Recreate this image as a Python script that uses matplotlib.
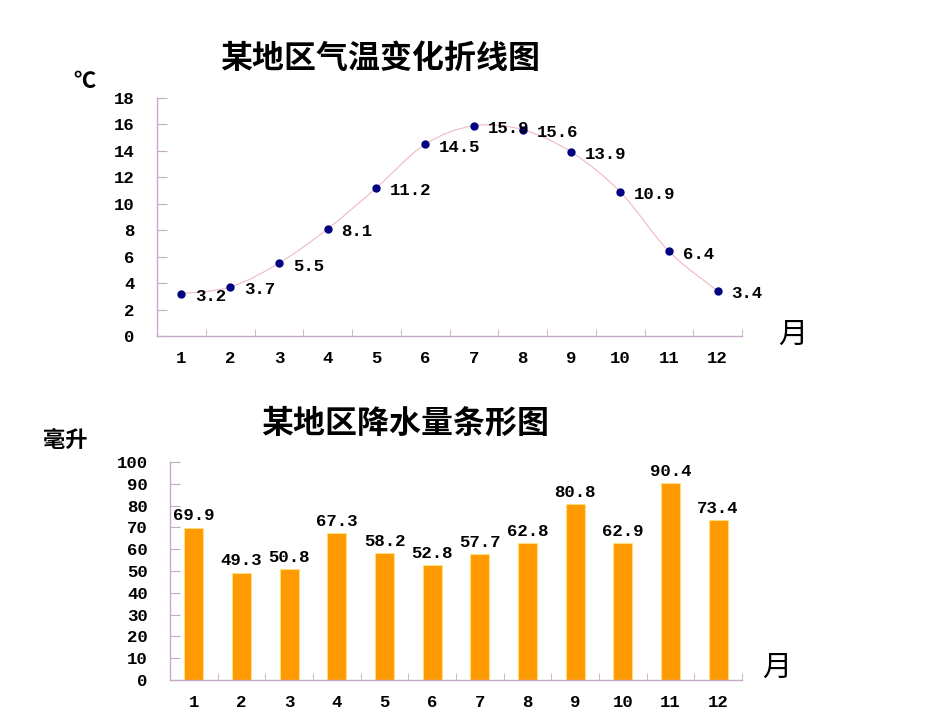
import numpy as np
import matplotlib.pyplot as plt
from matplotlib.path import Path
from matplotlib.patches import PathPatch

plt.rcParams['font.family'] = ['Noto Sans CJK SC', 'DejaVu Sans']

# 数据
months = list(range(1, 13))
temps = [3.2, 3.7, 5.5, 8.1, 11.2, 14.5, 15.9, 15.6, 13.9, 10.9, 6.4, 3.4]
rain = [69.9, 49.3, 50.8, 67.3, 58.2, 52.8, 57.7, 62.8, 80.8, 62.9, 90.4, 73.4]

spine_c = '#c8a8c8'
num_font = ['Liberation Mono', 'DejaVu Sans Mono']
num_size = 12.5

fig = plt.figure(figsize=(9.5, 7.13), dpi=100)
ax1 = fig.add_axes([0.1653, 0.5288, 0.6158, 0.3338])
ax2 = fig.add_axes([0.1789, 0.0463, 0.6021, 0.3057])


def style_axis(ax, ymax, ystep):
    ax.set_xlim(0.5, 12.5)
    ax.set_ylim(0, ymax)
    for s in ['top', 'right']:
        ax.spines[s].set_visible(False)
    for s in ['left', 'bottom']:
        ax.spines[s].set_color(spine_c)
        ax.spines[s].set_linewidth(1.0)
    ax.set_xticks(months)
    ax.set_xticks(np.arange(0.5, 13, 1), minor=True)
    ax.set_yticks(np.arange(0, ymax + 1, ystep))
    ax.tick_params(axis='x', which='major', length=0, pad=11)
    ax.tick_params(axis='x', which='minor', direction='in', length=5, color=spine_c)
    ax.tick_params(axis='y', direction='in', length=7, color=spine_c, pad=16)
    for lab in ax.get_xticklabels() + ax.get_yticklabels():
        lab.set_family(num_font)
        lab.set_fontsize(num_size)
        lab.set_fontweight('bold')


# 折线图（平滑）
style_axis(ax1, 18, 2)
pts = np.column_stack([months, temps]).astype(float)
verts = [tuple(pts[0])]
codes = [Path.MOVETO]
for i in range(len(pts) - 1):
    p0 = pts[i - 1] if i > 0 else pts[i]
    p1, p2 = pts[i], pts[i + 1]
    p3 = pts[i + 2] if i + 2 < len(pts) else pts[i + 1]
    c1 = p1 + (p2 - p0) / 6
    c2 = p2 - (p3 - p1) / 6
    verts += [tuple(c1), tuple(c2), tuple(p2)]
    codes += [Path.CURVE4] * 3
ax1.add_patch(PathPatch(Path(verts, codes), fill=False, edgecolor='#f0b8c0', lw=0.8))
ax1.plot(months, temps, 'o', color='#000080', ms=5, zorder=3)
for m, t in zip(months, temps):
    ax1.annotate(f'{t}', (m, t), xytext=(10, -2), textcoords='offset points',
                 ha='left', va='center', fontsize=num_size, family=num_font, fontweight='bold')

# 条形图
style_axis(ax2, 100, 10)
ax2.bar(months, rain, width=0.4, color='#ff9900', edgecolor='#ffe080', linewidth=0.8)
for m, r in zip(months, rain):
    ax2.annotate(f'{r}', (m, r), xytext=(0, 3), textcoords='offset points',
                 ha='center', va='bottom', fontsize=num_size, family=num_font, fontweight='bold')

# 标题与单位
fig.text(0.40, 0.918, '某地区气温变化折线图', ha='center', va='center', fontsize=23, fontweight='bold')
fig.text(0.426, 0.406, '某地区降水量条形图', ha='center', va='center', fontsize=23, fontweight='bold')
fig.text(0.089, 0.885, '℃', ha='center', va='center', fontsize=16, fontweight='bold')
fig.text(0.069, 0.382, '毫升', ha='center', va='center', fontsize=16, fontweight='bold')
fig.text(0.834, 0.53, '月', ha='center', va='center', fontsize=21)
fig.text(0.818, 0.063, '月', ha='center', va='center', fontsize=21)

fig.savefig('out.png', dpi=100)
